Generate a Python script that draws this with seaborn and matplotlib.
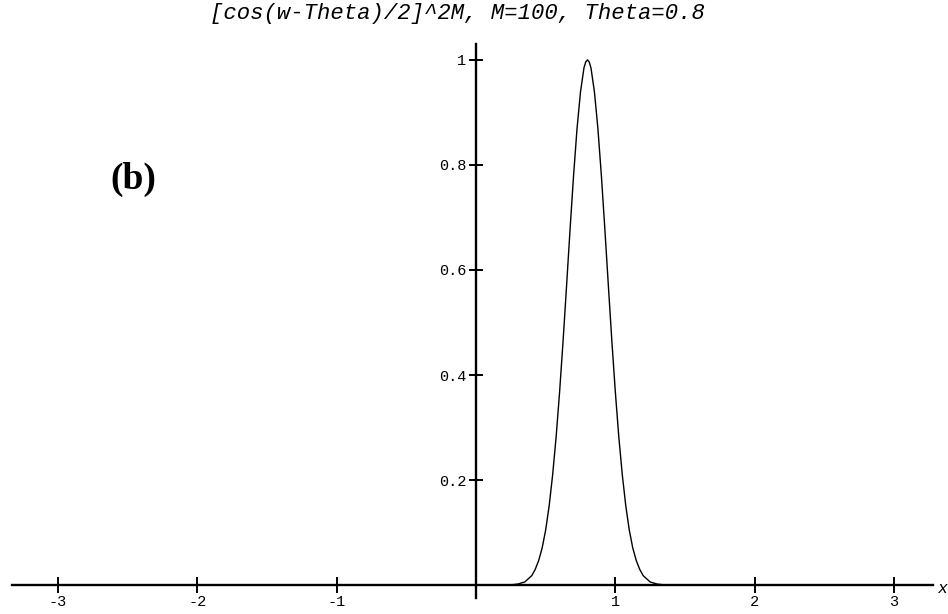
import numpy as np
import pandas as pd
import matplotlib
matplotlib.use("Agg")
import matplotlib.pyplot as plt
import seaborn as sns

# values (peak at Theta = 0.8)
w_vals = [-3.14, 0.25, 0.30, 0.35, 0.40, 0.425, 0.45, 0.475, 0.50, 0.525, 0.55,
          0.575, 0.60, 0.625, 0.65, 0.675, 0.70, 0.725, 0.75, 0.775, 0.7875, 0.80,
          0.8125, 0.825, 0.85, 0.875, 0.90, 0.925, 0.95, 0.975, 1.00, 1.025, 1.05,
          1.075, 1.10, 1.125, 1.15, 1.175, 1.20, 1.25, 1.30, 1.35, 3.14]
amp_vals = [0.0, 0.0005, 0.002, 0.006, 0.018, 0.030, 0.047, 0.071, 0.105, 0.151, 0.210,
            0.282, 0.368, 0.465, 0.570, 0.677, 0.779, 0.869, 0.939, 0.985, 0.996, 1.0,
            0.996, 0.985, 0.939, 0.869, 0.779, 0.677, 0.570, 0.465, 0.368, 0.282, 0.210,
            0.151, 0.105, 0.071, 0.047, 0.030, 0.018, 0.006, 0.002, 0.0005, 0.0]

x_ticks = [-3, -2, -1, 1, 2, 3]
y_ticks = [0.2, 0.4, 0.6, 0.8, 1]
y_labels = ["0.2", "0.4", "0.6", "0.8", "1"]
title = "[cos(w-Theta)/2]^2M, M=100, Theta=0.8"

sns.set_style("white")
plt.rcParams["font.family"] = ["Liberation Mono", "DejaVu Sans Mono"]
plt.rcParams["text.color"] = "black"

df = pd.DataFrame({"w": w_vals, "amp": amp_vals})

fig = plt.figure(figsize=(9.48, 6.14), dpi=100)
ax = fig.add_axes([0, 0, 1, 1])
ax.set_facecolor("none")

sns.lineplot(data=df, x="w", y="amp", color="black", linewidth=1.0, ax=ax)

ax.set_xlim(-3.417, 3.388)
ax.set_ylim(-0.055, 1.114)

# Mathematica style axes crossing at the origin
ax.spines["top"].set_visible(False)
ax.spines["right"].set_visible(False)
ax.spines["left"].set_position(("data", 0))
ax.spines["bottom"].set_position(("data", 0))
ax.spines["left"].set_bounds(-0.025, 1.03)
ax.spines["bottom"].set_bounds(-3.33, 3.28)
for s in ["left", "bottom"]:
    ax.spines[s].set_linewidth(1.7)
    ax.spines[s].set_color("black")

ax.set_xticks(x_ticks)
ax.set_xticklabels([str(t) for t in x_ticks])
ax.set_yticks(y_ticks)
ax.set_yticklabels(y_labels)
ax.tick_params(axis="both", direction="inout", length=12, width=1.4,
               colors="black", labelsize=11, bottom=True, left=True)
ax.tick_params(axis="x", pad=1)
ax.tick_params(axis="y", length=10, pad=2)
ax.set_xlabel("")
ax.set_ylabel("")

ax.text(3.345, -0.006, "x", fontsize=12, style="italic", ha="center", va="center")

fig.text(0.483, 0.978, title, fontsize=16, style="italic", ha="center", va="center")
fig.text(0.141, 0.707, "(b)", fontsize=27, fontweight="bold", ha="center", va="center",
         color="black", family=["Liberation Serif", "DejaVu Serif"])

fig.savefig("out.png", dpi=100)
